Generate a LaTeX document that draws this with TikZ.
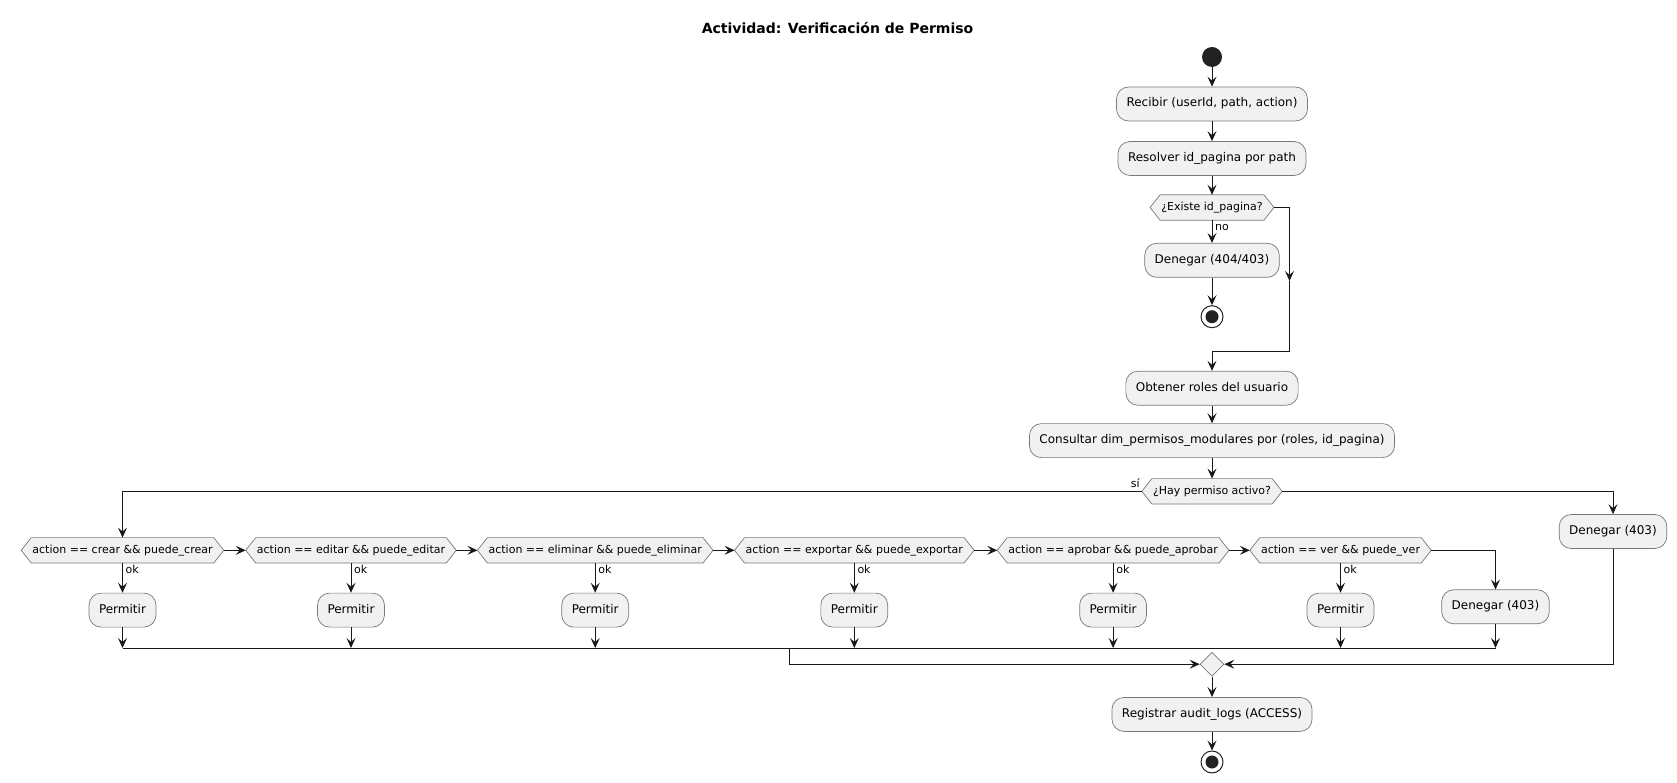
\documentclass[tikz,border=0pt]{standalone}
\usepackage{fontspec}
\setmainfont{DejaVu Sans}
\usetikzlibrary{arrows.meta,shapes.geometric}
\pgfdeclarelayer{background}
\pgfsetlayers{background,main}
\definecolor{ink}{HTML}{181818}
\definecolor{rim}{HTML}{787878}
\definecolor{boxfill}{HTML}{F1F1F1}
\definecolor{dot}{HTML}{222222}

\tikzset{
  action/.style={rectangle, rounded corners=12pt, draw=rim, line width=0.7pt, fill=boxfill,
    font=\fontsize{12pt}{14pt}\selectfont, inner xsep=10pt, inner ysep=0pt,
    minimum height=34pt, text height=9pt, text depth=3pt},
  cond/.style={rectangle, inner xsep=2pt, inner ysep=0pt, minimum height=25pt,
    text height=8.5pt, text depth=2.5pt, font=\fontsize{11pt}{13pt}\selectfont},
  hexline/.style={draw=rim, line width=0.7pt, fill=boxfill},
  flow/.style={draw=ink, line width=1pt, -{Stealth[length=10pt,width=9pt,inset=4pt]}},
  wire/.style={draw=ink, line width=1pt},
  guard/.style={font=\fontsize{11pt}{13pt}\selectfont, inner sep=0pt},
  startdot/.style={circle, fill=dot, minimum size=20pt, inner sep=0pt},
  enddot/.style={circle, draw=dot, line width=1pt, fill=white, minimum size=22pt, inner sep=0pt,
    path picture={\fill[dot] (path picture bounding box.center) circle (6.5pt);}},
  merge/.style={diamond, draw=rim, line width=0.7pt, fill=boxfill,
    minimum width=24pt, minimum height=24pt, inner sep=0pt},
}

% hexagonal outline behind a decision node, with named tips <name>-l and <name>-r
\newcommand\hexframe[1]{%
  \begin{pgfonlayer}{background}
    \path[hexline] ([xshift=-9pt]#1.west) coordinate (#1-l)
      -- ([xshift=1pt]#1.north west) -- ([xshift=-1pt]#1.north east)
      -- ([xshift=9pt]#1.east) coordinate (#1-r)
      -- ([xshift=-1pt]#1.south east) -- ([xshift=1pt]#1.south west) -- cycle;
  \end{pgfonlayer}}

\begin{document}
\begin{tikzpicture}[x=1pt,y=-1pt]
\useasboundingbox (0,0) rectangle (1677,783);

\node[font=\bfseries\fontsize{14pt}{16pt}\selectfont] (title) at (837.5,28) {Actividad: Verificación de Permiso};

% main column
\node[startdot] (start) at (1212,57) {};
\node[action] (recv) at (1212,104) {Recibir (userId, path, action)};
\node[action] (resolve) at (1212,158.5) {Resolver id\_pagina por path};
\node[cond] (exists) at (1212,207.5) {¿Existe id\_pagina?}; \hexframe{exists}
\node[action] (deny404) at (1212,260.3) {Denegar (404/403)};
\node[enddot] (stop1) at (1212,316.7) {};
\coordinate (skipmid) at (1289.5,281);
\coordinate (skipjoin) at (1289.5,351);
\node[action] (roles) at (1212,388.2) {Obtener roles del usuario};
\node[action] (query) at (1212,440.6) {Consultar dim\_permisos\_modulares por (roles, id\_pagina)};
\node[cond] (active) at (1212,491.3) {¿Hay permiso activo?}; \hexframe{active}
\node[action] (denyR) at (1613,531.5) {Denegar (403)};

% chain of action checks
\node[cond] (cCrear) at (122.5,550.3) {action == crear \&\& puede\_crear}; \hexframe{cCrear}
\node[cond] (cEditar) at (351,550.3) {action == editar \&\& puede\_editar}; \hexframe{cEditar}
\node[cond] (cElim) at (595.2,550.3) {action == eliminar \&\& puede\_eliminar}; \hexframe{cElim}
\node[cond] (cExp) at (854.3,550.3) {action == exportar \&\& puede\_exportar}; \hexframe{cExp}
\node[cond] (cApr) at (1113.1,550.3) {action == aprobar \&\& puede\_aprobar}; \hexframe{cApr}
\node[cond] (cVer) at (1340.5,550.3) {action == ver \&\& puede\_ver}; \hexframe{cVer}

\node[action] (pCrear) at (122.5,610.1) {Permitir};
\node[action] (pEditar) at (351,610.1) {Permitir};
\node[action] (pElim) at (595.2,610.1) {Permitir};
\node[action] (pExp) at (854.3,610.1) {Permitir};
\node[action] (pApr) at (1113.1,610.1) {Permitir};
\node[action] (pVer) at (1340.5,610.1) {Permitir};
\node[action] (deny2) at (1495.5,606.8) {Denegar (403)};

\coordinate (bar) at (0,648);
\coordinate (barjoin) at (789.3,648);
\node[merge] (join) at (1212,664.2) {};
\node[action] (audit) at (1212,714.4) {Registrar audit\_logs (ACCESS)};
\node[enddot] (stop2) at (1212,762) {};

% connectors: top part
\draw[flow] (start) -- (recv.north);
\draw[flow] (recv.south) -- (resolve.north);
\draw[flow] (resolve.south) -- (exists.north);
\draw[flow] (exists.south) -- (deny404.north);
\node[guard, anchor=base west] (lblno) at ([xshift=3pt,yshift=-10pt]exists.south) {no};
\draw[flow] (deny404.south) -- (stop1.north);
\draw[flow] (exists-r) -| (skipmid);
\draw[flow] (skipmid) -- (skipjoin) -| (roles.north);
\draw[flow] (roles.south) -- (query.north);
\draw[flow] (query.south) -- (active.north);

% permission branch
\draw[flow] (active-l) -| (cCrear.north);
\node[guard, anchor=base east] (lblsi) at ([xshift=-2pt,yshift=3.5pt]active-l) {sí};
\draw[flow] (active-r) -| (denyR.north);
\draw[flow] (denyR.south) |- (join.east);

\draw[flow] (cCrear-r) -- (cEditar-l);
\draw[flow] (cEditar-r) -- (cElim-l);
\draw[flow] (cElim-r) -- (cExp-l);
\draw[flow] (cExp-r) -- (cApr-l);
\draw[flow] (cApr-r) -- (cVer-l);
\draw[flow] (cVer-r) -| (deny2.north);

\foreach \c/\p in {cCrear/pCrear, cEditar/pEditar, cElim/pElim, cExp/pExp, cApr/pApr, cVer/pVer} {
  \draw[flow] (\c.south) -- (\p.north);
  \node[guard, anchor=base west] (ok-\c) at ([xshift=3pt,yshift=-10pt]\c.south) {ok};
  \draw[flow] (\p.south) -- (\p.south |- bar);
}
\draw[flow] (deny2.south) -- (deny2.south |- bar);
\draw[wire] (pCrear.south |- bar) -- (deny2.south |- bar);
\draw[flow] (barjoin) |- (join.west);

% final part
\draw[flow] (join.south) -- (audit.north);
\draw[flow] (audit.south) -- (stop2.north);
\end{tikzpicture}
\end{document}
